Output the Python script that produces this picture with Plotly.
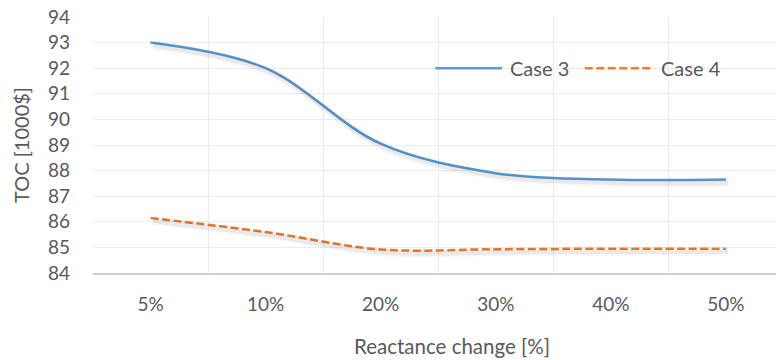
import plotly.graph_objects as go

# Reactance change categories and total operating cost (TOC) per case, in 1000$
categories = ["5%", "10%", "20%", "30%", "40%", "50%"]
case3_toc = [93.0, 92.0, 89.05, 87.9, 87.65, 87.65]
case4_toc = [86.15, 85.6, 84.92, 84.93, 84.95, 84.95]
y_ticks = [84, 85, 86, 87, 88, 89, 90, 91, 92, 93, 94]

BLUE = "#5B9BD5"
ORANGE = "#ED7D31"
TEXT = "#595959"
GRID = "#ECECEC"
FONT = "Lato"
DASH = "8px,3.5px"

X_RANGE = [-0.5, 5.435]
Y_RANGE = [84, 94]
# soft drop shadow: the same series drawn on overlaid axes nudged a few pixels
SHADOW_DX = 0.02   # category units (~2 px)
SHADOW_DY = 0.11   # value units (~3 px)

fig = go.Figure()

series = [
    ("Case 3", case3_toc, BLUE, "solid"),
    ("Case 4", case4_toc, ORANGE, DASH),
]

for name, values, color, dash in series:
    for width, alpha in [(8, 0.035), (5, 0.05)]:
        fig.add_trace(go.Scatter(
            x=categories, y=values, mode="lines", name=name + " shadow",
            xaxis="x2", yaxis="y2", hoverinfo="skip", showlegend=False,
            line=dict(color=f"rgba(0,0,0,{alpha})", width=width,
                      shape="spline", smoothing=1.0),
        ))

for name, values, color, dash in series:
    fig.add_trace(go.Scatter(
        x=categories, y=values, mode="lines", name=name, showlegend=False,
        line=dict(color=color, width=2.5, shape="spline", smoothing=1.0,
                  dash=dash),
    ))

# legend drawn as line samples with labels inside the plot area
legend_y = 0.80
legend_items = [
    ("Case 3", BLUE, "solid", 0.501, 0.599, 0.607),
    ("Case 4", ORANGE, DASH, 0.720, 0.820, 0.828),
]
shapes = []
annotations = []
for label, color, dash, x0, x1, xt in legend_items:
    shapes.append(dict(type="line", xref="paper", yref="paper",
                       x0=x0, x1=x1, y0=legend_y, y1=legend_y,
                       line=dict(color=color, width=2.5, dash=dash)))
    annotations.append(dict(text=label, xref="paper", yref="paper",
                            x=xt, y=legend_y, xanchor="left", yanchor="middle",
                            showarrow=False,
                            font=dict(family=FONT, size=20, color=TEXT)))

# x-axis title, centred under the full (wider) chart area
annotations.append(dict(text="Reactance change [%]", xref="paper",
                        yref="paper", x=0.5256, y=-0.285, xanchor="center",
                        yanchor="middle", showarrow=False,
                        font=dict(family=FONT, size=20.5, color=TEXT)))

fig.update_layout(
    width=776, height=360,
    margin=dict(l=93, r=0, t=17, b=87),
    paper_bgcolor="white", plot_bgcolor="white",
    font=dict(family=FONT, size=19, color=TEXT),
    shapes=shapes, annotations=annotations,
    xaxis=dict(
        type="category", range=X_RANGE, tickson="boundaries",
        showgrid=True, gridcolor=GRID, gridwidth=1,
        showline=True, linecolor="#D0D0D0", linewidth=2,
        ticks="", tickfont=dict(size=19, color=TEXT), ticklabelstandoff=13,
        zeroline=False, fixedrange=True, automargin=False,
    ),
    yaxis=dict(
        range=Y_RANGE, tickvals=y_ticks, showgrid=True, gridcolor=GRID,
        gridwidth=1, zeroline=False, ticks="", showline=False,
        tickfont=dict(size=19, color=TEXT), ticklabelstandoff=22,
        title=dict(text="TOC [1000$]", standoff=12,
                   font=dict(size=20, color=TEXT)),
        automargin=False,
    ),
    xaxis2=dict(
        type="category", overlaying="x",
        range=[X_RANGE[0] - SHADOW_DX, X_RANGE[1] - SHADOW_DX],
        visible=False, categoryarray=categories, categoryorder="array",
    ),
    yaxis2=dict(
        overlaying="y", range=[Y_RANGE[0] + SHADOW_DY, Y_RANGE[1] + SHADOW_DY],
        visible=False,
    ),
)

fig.write_html("out.html")
